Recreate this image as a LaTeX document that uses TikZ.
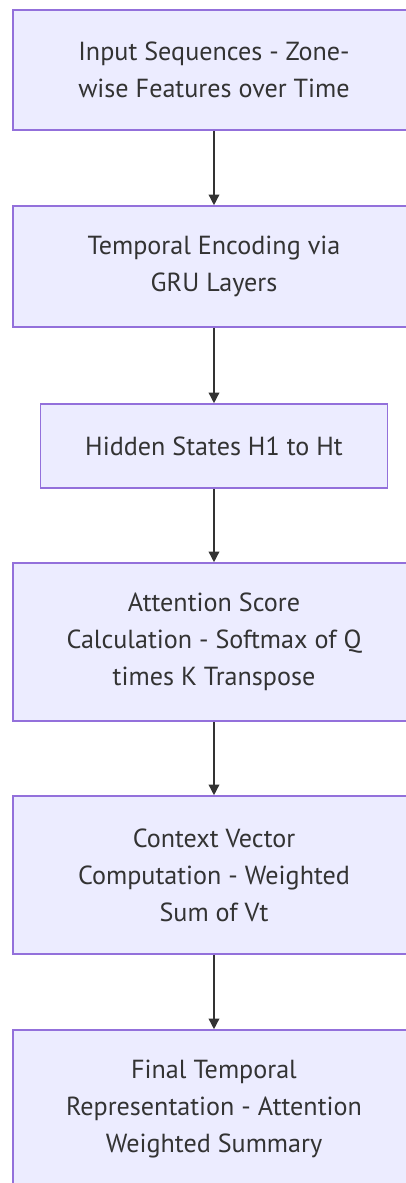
\documentclass[tikz,border=0pt]{standalone}
\usepackage{fontspec}
\setmainfont{PT Sans}
\usetikzlibrary{arrows.meta}
\definecolor{boxfill}{HTML}{ECECFF}
\definecolor{boxline}{HTML}{9370DB}
\definecolor{txt}{HTML}{333333}
\definecolor{edge}{HTML}{333333}
\tikzset{
  flowbox/.style={draw=boxline, fill=boxfill, line width=1.2pt, text=txt, align=center,
    inner sep=0pt, minimum width=301.5pt,
    font=\fontsize{19.6}{27.75}\selectfont},
  flow/.style={draw=edge, line width=1.1pt, -{Triangle[length=8pt,width=8pt]}}
}
\begin{document}
\begin{tikzpicture}[x=0.75pt,y=-0.75pt]
\useasboundingbox (0,0) rectangle (405,1183);
\node[flowbox, minimum height=90pt] (a) at (214,70) {Input Sequences - Zone-\\wise Features over Time};
\node[flowbox, minimum height=90.75pt] (b) at (214,266.5) {Temporal Encoding via\\GRU Layers};
\node[flowbox, minimum height=63pt, minimum width=260.25pt] (c) at (214,446) {Hidden States H1 to Ht};
\node[flowbox, minimum height=118.5pt] (d) at (214,642) {Attention Score\\Calculation - Softmax of Q\\times K Transpose};
\node[flowbox, minimum height=118.5pt] (e) at (214,875) {Context Vector\\Computation - Weighted\\Sum of Vt};
\node[flowbox, minimum height=118.5pt] (f) at (214,1109) {Final Temporal\\Representation - Attention\\Weighted Summary};
\draw[flow] (a) -- (b);
\draw[flow] (b) -- (c);
\draw[flow] (c) -- (d);
\draw[flow] (d) -- (e);
\draw[flow] (e) -- (f);
\end{tikzpicture}
\end{document}
